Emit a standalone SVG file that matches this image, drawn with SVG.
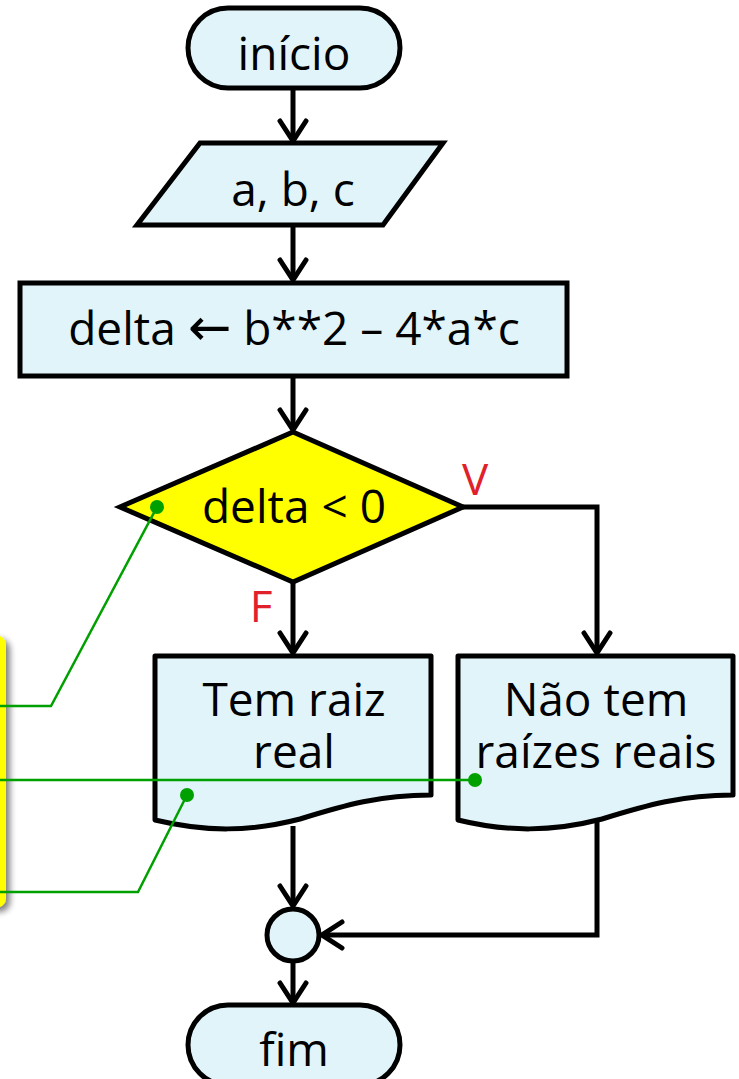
<svg xmlns="http://www.w3.org/2000/svg" width="739" height="1079" viewBox="0 0 739 1079">
<style>
.node{fill:#E1F4F9;stroke:#000;stroke-width:5;stroke-linejoin:round}
.dec{fill:#FFFF00;stroke:#000;stroke-width:5;stroke-linejoin:miter}
.t{font-family:"Open Sans","Noto Sans",sans-serif;font-size:46px;fill:#000;text-anchor:middle}
.arr{font-family:"DejaVu Sans",sans-serif;font-size:52px}
.lbl{font-family:"Open Sans","Noto Sans",sans-serif;font-size:44px;fill:#E0202A;text-anchor:middle}
.c{fill:none;stroke:#000;stroke-width:5;marker-end:url(#ah)}
.g{fill:none;stroke:#00A000;stroke-width:2.5}
.gd{fill:#00A000}
</style>
<defs>
<marker id="ah" viewBox="-26 -16 30 32" markerUnits="userSpaceOnUse" markerWidth="30" markerHeight="32" refX="0" refY="0" orient="auto">
<path d="M-20,-13 L0,0 L-20,13" fill="none" stroke="#000" stroke-width="5" stroke-linecap="round" stroke-linejoin="miter"/>
</marker>
<filter id="sh" x="-50%" y="-20%" width="200%" height="140%">
<feGaussianBlur in="SourceAlpha" stdDeviation="3"/>
<feOffset dx="4" dy="4"/>
<feComponentTransfer><feFuncA type="linear" slope="0.5"/></feComponentTransfer>
<feMerge><feMergeNode/><feMergeNode in="SourceGraphic"/></feMerge>
</filter>
</defs>
<g id="note">
<rect x="-40" y="635" width="46" height="273" rx="10" fill="#FFFF00" filter="url(#sh)"/>
</g>
<g id="connectors">
<path class="c" d="M293,88 V141"/>
<path class="c" d="M293,225 V280"/>
<path class="c" d="M293,376 V430"/>
<path class="c" d="M293,582 V653"/>
<path class="c" d="M463,507 H597 V653"/>
<path class="c" d="M293,826 V906"/>
<path class="c" d="M597,810 V935 H322"/>
<path class="c" d="M293,962 V1003"/>
</g>
<g id="start"><rect class="node" x="188" y="8" width="212" height="80" rx="40"/><text class="t" x="294" y="70">início</text></g>
<g id="input"><polygon class="node" points="200,143 443,143 383,225 137,225" style="stroke-linejoin:miter"/><text class="t" x="293" y="206">a, b, c</text></g>
<g id="process"><rect class="node" x="20" y="283" width="547" height="93" style="stroke-linejoin:miter"/><text class="t" x="294" y="345">delta <tspan class="arr">←</tspan> b**2 – 4*a*c</text></g>
<g id="decision"><polygon class="dec" points="293,432 463,507 293,582 120,507"/><text class="t" x="294" y="523">delta &lt; 0</text></g>
<g id="labelV"><text class="lbl" x="475" y="495">V</text></g>
<g id="labelF"><text class="lbl" x="261" y="622">F</text></g>
<g id="doc1"><path class="node" d="M155,656 H431 V795 C380,795 345,805 300,819 C250,832 205,832 155,820 Z"/><text class="t" y="716"><tspan x="294">Tem raiz</tspan><tspan x="294" dy="52">real</tspan></text></g>
<g id="doc2"><path class="node" d="M458,656 H733 V795 C682,795 647,805 602,819 C552,832 507,832 458,820 Z"/><text class="t" y="716"><tspan x="596">Não tem</tspan><tspan x="596" dy="52">raízes reais</tspan></text></g>
<g id="junction"><circle class="node" cx="293" cy="935" r="26"/></g>
<g id="end"><rect class="node" x="188" y="1005" width="212" height="80" rx="40"/><text class="t" x="294" y="1066">fim</text></g>
<g id="pointers">
<path class="g" d="M0,706 H51 L157,507"/>
<circle class="gd" cx="157" cy="507" r="7"/>
<path class="g" d="M0,780 H475"/>
<circle class="gd" cx="475" cy="780" r="7"/>
<path class="g" d="M0,892 H138 L187,795"/>
<circle class="gd" cx="187" cy="795" r="7"/>
</g>
</svg>
